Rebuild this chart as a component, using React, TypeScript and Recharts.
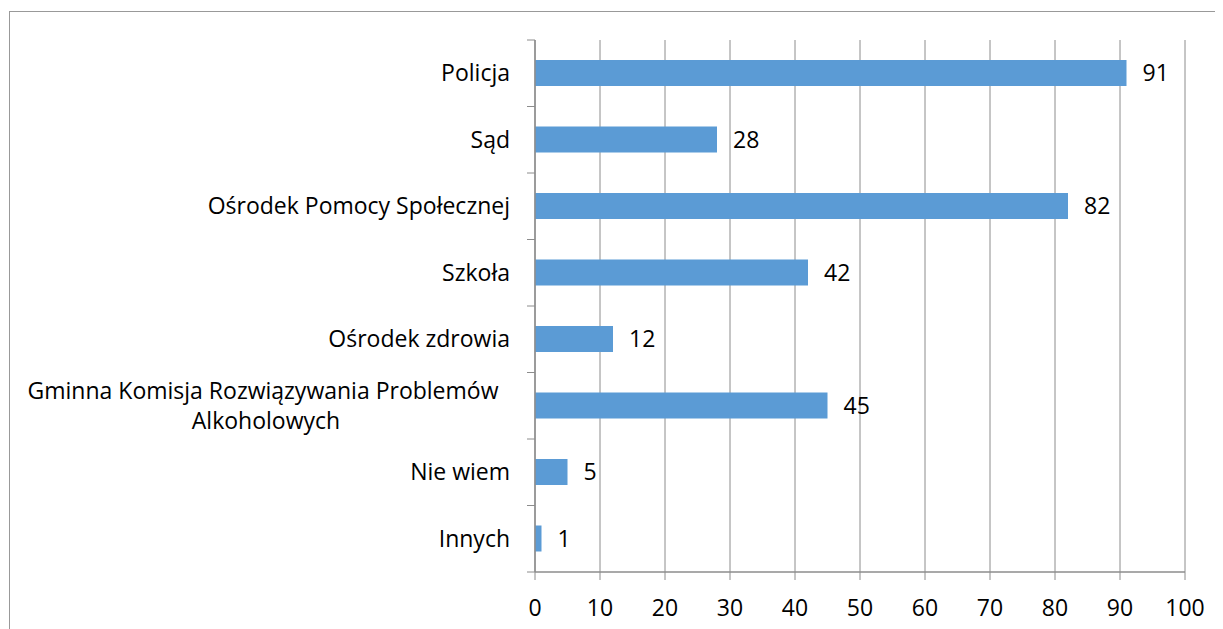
import React from 'react'
import { BarChart, Bar, XAxis, YAxis, CartesianGrid, LabelList } from 'recharts'

const categories = [
  'Policja',
  'Sąd',
  'Ośrodek Pomocy Społecznej',
  'Szkoła',
  'Ośrodek zdrowia',
  'Gminna Komisja Rozwiązywania Problemów \nAlkoholowych',
  'Nie wiem',
  'Innych',
]
const counts = [91, 28, 82, 42, 12, 45, 5, 1]
const xTicks = [0, 10, 20, 30, 40, 50, 60, 70, 80, 90, 100]

const data = categories.map((name, i) => ({ name, value: counts[i] }))

const W = 1215
const H = 621
const AXIS_X = 527
const TOP = 32
const PLOT_BOTTOM = 564
const band = (PLOT_BOTTOM - TOP) / categories.length
const FONT = '"Open Sans", sans-serif'
const FS = 23
const GRID = '#8c8c8c'

// category labels sit at band centres, tick marks at band boundaries (Excel style)
const CategoryTick = (props: any) => {
  const { y, payload, index } = props
  const lines: string[] = String(payload.value).split('\n')
  const multi = lines.length > 1
  const tx = multi ? 258 : AXIS_X - 25
  return (
    <g>
      <line x1={AXIS_X - 8} x2={AXIS_X} y1={y - band / 2} y2={y - band / 2} stroke={GRID} />
      {index === categories.length - 1 && (
        <line x1={AXIS_X - 8} x2={AXIS_X} y1={y + band / 2} y2={y + band / 2} stroke={GRID} />
      )}
      <text
        x={tx}
        y={y}
        textAnchor={multi ? 'middle' : 'end'}
        fontSize={FS}
        fontFamily={FONT}
        fill="#000"
      >
        {lines.map((l, i) => (
          <tspan key={i} x={tx} dy={i === 0 ? (multi ? -7 : 8) : 30}>
            {l}
          </tspan>
        ))}
      </text>
    </g>
  )
}

export default function App() {
  return (
    <div style={{ position: 'relative', width: W, height: H }}>
      <div
        style={{
          position: 'absolute',
          left: 1,
          top: 3,
          width: 1214,
          height: 618,
          borderTop: '1px solid #999',
          borderLeft: '1px solid #999',
          boxSizing: 'border-box',
        }}
      />
      <div style={{ position: 'absolute', left: 0, top: 0 }}>
        <BarChart
          width={W}
          height={H}
          data={data}
          layout="vertical"
          margin={{ top: TOP, right: 38, bottom: 17, left: 0 }}
          barCategoryGap={20}
        >
          <CartesianGrid horizontal={false} stroke={GRID} strokeWidth={1} />
          <XAxis
            type="number"
            domain={[0, 100]}
            ticks={xTicks}
            interval={0}
            height={40}
            axisLine={{ stroke: GRID, strokeWidth: 1.5 }}
            tickLine={{ stroke: GRID }}
            tickSize={8}
            tickMargin={20}
            tick={{ fontSize: FS, fontFamily: FONT, fill: '#000' }}
          />
          <YAxis
            type="category"
            dataKey="name"
            width={AXIS_X}
            axisLine={{ stroke: GRID, strokeWidth: 1.5 }}
            tickLine={false}
            interval={0}
            tick={<CategoryTick />}
          />
          <Bar dataKey="value" fill="#5B9BD5" barSize={26} isAnimationActive={false}>
            <LabelList
              dataKey="value"
              position="right"
              offset={16}
              fill="#000"
              fontSize={FS}
              fontFamily={FONT}
            />
          </Bar>
        </BarChart>
      </div>
    </div>
  )
}
